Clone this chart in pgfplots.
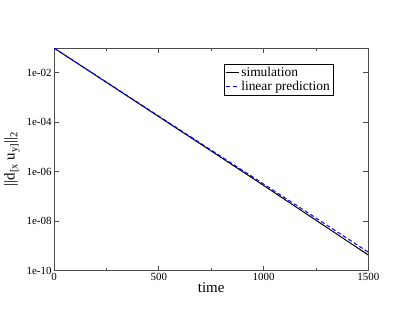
\documentclass[border=0pt]{standalone}
\usepackage{fontspec}
\setmainfont{Liberation Serif}
\usepackage{pgfplots}
\pgfplotsset{compat=1.18}
\newcommand{\sub}[1]{\raisebox{-0.4ex}{\fontsize{10.5}{10.5}\selectfont #1}}
\begin{document}
\begin{tikzpicture}
\useasboundingbox (0,0) rectangle (415bp,321bp);
\begin{axis}[
  at={(54bp,50.3bp)}, anchor=south west,
  scale only axis, width=314.3bp, height=222.7bp,
  xmin=0, xmax=1500, ymode=log, ymin=1e-10, ymax=0.1,
  xtick={0,500,1000,1500},
  minor xtick={250,750,1250},
  ytick={1e-10,1e-8,1e-6,1e-4,1e-2},
  yticklabels={1e-10,1e-08,1e-06,1e-04,1e-02},
  yminorticks=false,
  tick align=inside,
  major tick length=5bp, minor tick length=3bp,
  axis line style={draw=black!70, line width=1bp},
  every tick/.style={black!70, line width=0.8bp},
  tick label style={font=\fontsize{11}{11}\selectfont},
  /pgf/number format/assume math mode=true,
  /pgf/number format/1000 sep={},
  xticklabel style={yshift=1.5bp},
  yticklabel style={xshift=1bp},
  xlabel={time},
  ylabel={||d\sub{[x} u\sub{y]}||\sub{2}},
  label style={font=\fontsize{15}{15}\selectfont},
  xlabel style={yshift=4bp},
  ylabel style={yshift=0bp},
  legend style={at={(0.541,0.928)}, anchor=north west, draw=black, line width=0.5bp,
    font=\fontsize{13.5}{13.5}\selectfont, inner sep=1.5bp, row sep=0bp,
    nodes={inner sep=1.5bp}, cells={anchor=west}},
  legend cell align=left,
  legend image code/.code={\draw[#1] (0bp,0bp) -- (13bp,0bp);},
]
\addplot[black, line width=1bp] coordinates {
(0,0.1) (250,4.1e-3) (500,1.68e-4) (750,6.9e-6) (1000,2.8e-7) (1250,1.1e-8) (1500,4.3e-10)};
\addlegendentry{simulation}
\addplot[blue, line width=1bp, dash pattern=on 4bp off 2.5bp] coordinates {
(0,0.1) (250,4.2e-3) (500,1.77e-4) (750,7.5e-6) (1000,3.2e-7) (1250,1.35e-8) (1500,5.6e-10)};
\addlegendentry{linear prediction}
\end{axis}
\end{tikzpicture}
\end{document}
